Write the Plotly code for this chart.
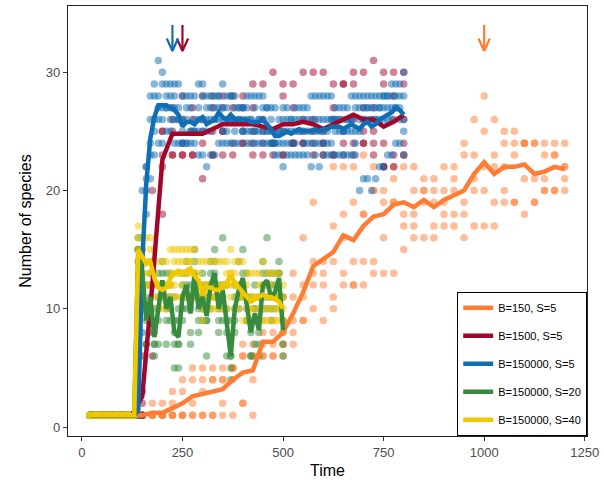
import plotly.graph_objects as go

# ---- simulation output: five replicate runs per recorded time step ----
series_names = ["B=150, S=5", "B=1500, S=5", "B=150000, S=5",
                "B=150000, S=20", "B=150000, S=40"]
series_colors = ["#FF7D33", "#A0072B", "#0F6EB4", "#378B3C", "#EFC800"]

orange_times = list(range(25, 1201, 25))
orange_vals = [
    [1, 1, 1, 1, 1], [1, 1, 1, 1, 1], [1, 1, 1, 1, 1], [1, 1, 1, 1, 1],
    [1, 1, 1, 1, 1], [1, 1, 1, 1, 1], [2, 1, 1, 1, 1], [2, 1, 1, 1, 1],
    [3, 2, 1, 1, 1], [4, 3, 1, 1, 1], [5, 4, 2, 1, 1], [5, 4, 3, 1, 1],
    [5, 4, 4, 1, 1], [5, 4, 4, 2, 1], [5, 5, 5, 4, 1], [7, 6, 6, 2, 2],
    [7, 6, 6, 4, 1], [9, 8, 7, 6, 6], [9, 8, 7, 6, 6], [11, 9, 7, 7, 6],
    [13, 11, 9, 8, 7], [16, 12, 11, 9, 9], [19, 14, 13, 12, 10], [23, 14, 13, 12, 9],
    [22, 17, 14, 11, 10], [22, 18, 16, 13, 12], [22, 19, 14, 12, 12], [23, 18, 18, 14, 12],
    [22, 20, 20, 14, 13], [22, 20, 19, 16, 13], [22, 21, 19, 19, 13], [23, 22, 18, 17, 15],
    [22, 20, 18, 17, 16], [21, 20, 20, 19, 16], [21, 20, 19, 17, 16], [22, 20, 19, 18, 17],
    [22, 21, 20, 18, 17], [24, 23, 19, 18, 16], [26, 23, 21, 20, 17], [28, 25, 22, 20, 17],
    [26, 23, 22, 19, 17], [25, 24, 22, 20, 19], [25, 24, 23, 19, 19], [24, 24, 24, 21, 18],
    [24, 24, 21, 19, 19], [24, 23, 21, 20, 20], [24, 23, 23, 20, 20], [24, 22, 22, 21, 20],
]

red_times = list(range(25, 801, 25))
red_vals = [
    [1, 1, 1, 1, 1], [1, 1, 1, 1, 1], [1, 1, 1, 1, 1], [1, 1, 1, 1, 1],
    [1, 1, 1, 1, 1], [6, 3, 2, 1, 1], [20, 14, 12, 8, 6], [25, 25, 23, 22, 18],
    [27, 26, 25, 23, 23], [28, 26, 24, 23, 23], [27, 26, 25, 23, 23], [28, 26, 25, 24, 21],
    [28, 27, 25, 23, 23], [28, 27, 25, 25, 23], [28, 27, 26, 24, 23], [28, 27, 25, 24, 24],
    [29, 27, 25, 24, 23], [29, 26, 25, 24, 23], [30, 25, 24, 24, 23], [29, 28, 25, 23, 23],
    [29, 27, 24, 24, 24], [30, 26, 25, 24, 24], [30, 26, 25, 24, 23], [30, 25, 24, 24, 23],
    [29, 27, 26, 23, 23], [29, 29, 25, 24, 23], [30, 29, 26, 24, 23], [30, 27, 25, 24, 24],
    [31, 27, 25, 24, 23], [30, 29, 24, 22, 22], [30, 28, 26, 23, 22], [30, 29, 26, 24, 23],
]

blue_times = list(range(20, 801, 10))
blue_vals = [
    [1, 1, 1, 1, 1], [1, 1, 1, 1, 1], [1, 1, 1, 1, 1], [1, 1, 1, 1, 1],
    [1, 1, 1, 1, 1], [1, 1, 1, 1, 1], [1, 1, 1, 1, 1], [1, 1, 1, 1, 1],
    [1, 1, 1, 1, 1], [1, 1, 1, 1, 1], [1, 1, 1, 1, 1], [1, 1, 1, 1, 1],
    [3, 1, 1, 1, 1], [20, 16, 14, 12, 8], [22, 22, 21, 20, 18], [28, 26, 24, 23, 21],
    [29, 28, 26, 25, 23], [31, 28, 27, 26, 24], [30, 29, 27, 26, 24], [29, 28, 27, 27, 25],
    [29, 28, 27, 26, 25], [29, 28, 27, 26, 24], [29, 27, 26, 26, 24], [28, 26, 25, 24, 24],
    [28, 27, 26, 24, 24], [28, 27, 25, 25, 24], [28, 26, 25, 25, 24], [29, 27, 26, 25, 23],
    [29, 28, 26, 25, 23], [28, 27, 26, 25, 22], [28, 27, 26, 25, 23], [28, 27, 26, 26, 23],
    [28, 28, 27, 26, 24], [29, 27, 26, 25, 24], [28, 27, 26, 25, 24], [28, 28, 26, 26, 24],
    [28, 27, 26, 25, 24], [27, 27, 26, 26, 24], [27, 27, 26, 25, 25], [28, 27, 26, 25, 24],
    [28, 26, 26, 25, 24], [28, 27, 25, 25, 24], [28, 26, 26, 25, 24], [28, 27, 26, 25, 24],
    [27, 27, 25, 25, 24], [27, 26, 25, 24, 24], [27, 25, 24, 24, 23], [26, 25, 25, 24, 23],
    [27, 26, 25, 24, 22], [27, 26, 25, 24, 23], [26, 26, 25, 24, 23], [27, 26, 25, 24, 23],
    [27, 26, 25, 25, 23], [27, 26, 25, 24, 23], [27, 26, 25, 24, 23], [28, 26, 25, 24, 22],
    [28, 26, 25, 24, 23], [28, 26, 25, 24, 22], [28, 26, 25, 24, 23], [28, 26, 25, 24, 23],
    [28, 26, 26, 24, 23], [27, 26, 26, 25, 23], [27, 26, 26, 25, 23], [27, 26, 25, 25, 23],
    [27, 26, 26, 25, 23], [28, 26, 26, 25, 23], [28, 27, 25, 24, 23], [28, 27, 26, 25, 20],
    [28, 27, 26, 26, 21], [28, 27, 27, 26, 21], [28, 27, 26, 26, 20], [28, 27, 26, 26, 21],
    [28, 27, 27, 26, 22], [28, 28, 27, 26, 22], [28, 28, 27, 26, 23], [29, 28, 27, 26, 23],
    [29, 28, 27, 27, 24], [29, 28, 27, 26, 24], [30, 28, 26, 25, 23],
]

green_times = list(range(20, 501, 10))
green_vals = [
    [1, 1, 1, 1, 1], [1, 1, 1, 1, 1], [1, 1, 1, 1, 1], [1, 1, 1, 1, 1],
    [1, 1, 1, 1, 1], [1, 1, 1, 1, 1], [1, 1, 1, 1, 1], [1, 1, 1, 1, 1],
    [1, 1, 1, 1, 1], [1, 1, 1, 1, 1], [1, 1, 1, 1, 1], [1, 1, 1, 1, 1],
    [16, 15, 15, 15, 14], [15, 14, 13, 12, 11], [12, 10, 9, 7, 7], [13, 12, 11, 10, 9],
    [10, 8, 7, 7, 6], [13, 11, 10, 9, 7], [14, 13, 12, 12, 11], [13, 11, 10, 9, 7],
    [13, 12, 11, 10, 9], [11, 9, 8, 7, 5], [10, 9, 7, 7, 5], [13, 12, 11, 10, 9],
    [14, 13, 12, 11, 10], [12, 11, 10, 8, 7], [15, 14, 13, 12, 11], [12, 11, 10, 9, 8],
    [13, 12, 11, 10, 9], [12, 11, 9, 9, 6], [14, 13, 12, 11, 10], [15, 14, 13, 12, 11],
    [12, 11, 10, 9, 8], [16, 12, 11, 10, 9], [12, 10, 9, 8, 6], [9, 6, 6, 5, 4],
    [12, 11, 10, 9, 8], [14, 12, 11, 11, 10], [15, 13, 12, 12, 11], [13, 11, 10, 9, 9],
    [11, 9, 8, 6, 6], [12, 10, 10, 9, 7], [11, 9, 8, 7, 6], [14, 13, 12, 11, 10],
    [16, 13, 12, 11, 10], [13, 12, 11, 10, 9], [13, 12, 11, 11, 10], [14, 13, 13, 12, 11],
    [11, 9, 8, 7, 6],
]

yellow_times = list(range(20, 501, 10))
yellow_vals = [
    [1, 1, 1, 1, 1], [1, 1, 1, 1, 1], [1, 1, 1, 1, 1], [1, 1, 1, 1, 1],
    [1, 1, 1, 1, 1], [1, 1, 1, 1, 1], [1, 1, 1, 1, 1], [1, 1, 1, 1, 1],
    [1, 1, 1, 1, 1], [1, 1, 1, 1, 1], [1, 1, 1, 1, 1], [1, 1, 1, 1, 1],
    [17, 16, 15, 14, 13], [16, 15, 14, 14, 13], [16, 14, 14, 13, 12], [16, 15, 14, 13, 12],
    [15, 13, 12, 12, 11], [14, 12, 12, 11, 10], [14, 12, 11, 11, 10], [14, 12, 12, 11, 10],
    [15, 13, 12, 12, 11], [15, 14, 13, 12, 11], [15, 14, 13, 13, 11], [15, 14, 13, 12, 11],
    [15, 14, 13, 13, 11], [15, 14, 14, 13, 11], [15, 13, 13, 12, 11], [14, 13, 12, 12, 11],
    [14, 12, 11, 10, 9], [14, 12, 12, 11, 10], [14, 12, 12, 11, 10], [14, 12, 11, 11, 10],
    [14, 12, 11, 11, 10], [14, 12, 12, 11, 10], [14, 13, 12, 12, 10], [15, 13, 13, 12, 11],
    [14, 13, 12, 12, 10], [14, 12, 12, 11, 10], [14, 12, 11, 11, 9], [13, 12, 11, 10, 9],
    [13, 11, 10, 10, 9], [13, 11, 11, 10, 9], [13, 12, 11, 10, 9], [14, 12, 11, 10, 9],
    [13, 12, 11, 10, 9], [13, 12, 11, 10, 9], [13, 11, 11, 10, 9], [13, 11, 10, 10, 9],
    [12, 11, 10, 9, 8],
]

# time at which each of the first three treatments reaches its plateau
arrow_times = [1000, 250, 225]
arrow_series = [0, 1, 2]

x_ticks = [0, 250, 500, 750, 1000, 1250]
y_ticks = [0, 10, 20, 30]

all_times = [orange_times, red_times, blue_times, green_times, yellow_times]
all_vals = [orange_vals, red_vals, blue_vals, green_vals, yellow_vals]

fig = go.Figure()

# replicate points first, so every mean line sits on top of all points
for name, col, times, vals in zip(series_names, series_colors, all_times, all_vals):
    px, py = [], []
    for t, row in zip(times, vals):
        for v in row:
            px.append(t)
            py.append(v)
    fig.add_trace(go.Scatter(
        x=px, y=py, mode="markers", showlegend=False, hoverinfo="skip",
        marker=dict(size=7.5, color=col, opacity=0.5, line=dict(width=0)),
    ))

# mean of the replicates at each time step
for i, (name, col, times, vals) in enumerate(zip(series_names, series_colors, all_times, all_vals)):
    means = [sum(r) / len(r) for r in vals]
    fig.add_trace(go.Scatter(
        x=times, y=means, mode="lines", name=name, legendgroup=f"g{i}",
        line=dict(color=col, width=4.5),
    ))

# downward arrows marking the plateau times
arrow_top, arrow_tip = 34.0, 31.8
head_dx, head_dy = 14.0, 1.05
for t, s in zip(arrow_times, arrow_series):
    fig.add_trace(go.Scatter(
        x=[t, t, None, t - head_dx, t, t + head_dx],
        y=[arrow_top, arrow_tip, None, arrow_tip + head_dy, arrow_tip, arrow_tip + head_dy],
        mode="lines", showlegend=False, hoverinfo="skip",
        line=dict(color=series_colors[s], width=2.2),
    ))

font_family = "Arial, Liberation Sans, sans-serif"
axis_common = dict(
    showgrid=False, zeroline=False, showline=True, mirror=True,
    linecolor="#222222", linewidth=1.2, ticks="outside", ticklen=4,
    tickcolor="#333333", tickwidth=1,
    tickfont=dict(family=font_family, size=13, color="#4D4D4D"),
)

fig.update_layout(
    width=604, height=485,
    margin=dict(l=68, r=14, t=5, b=49),
    plot_bgcolor="white", paper_bgcolor="white",
    font=dict(family=font_family),
    xaxis=dict(range=[-34.6, 1255.6], tickvals=x_ticks,
               title=dict(text="Time", font=dict(size=16, color="black"), standoff=6),
               **axis_common),
    yaxis=dict(range=[-0.76, 35.6], tickvals=y_ticks,
               title=dict(text="Number of species", font=dict(size=16, color="black"), standoff=10),
               **axis_common),
    legend=dict(
        x=1, y=0, xanchor="right", yanchor="bottom",
        bgcolor="white", bordercolor="black", borderwidth=1.2,
        font=dict(family=font_family, size=11, color="black"),
        tracegroupgap=9, itemwidth=30,
    ),
)

fig.write_html("out.html")
